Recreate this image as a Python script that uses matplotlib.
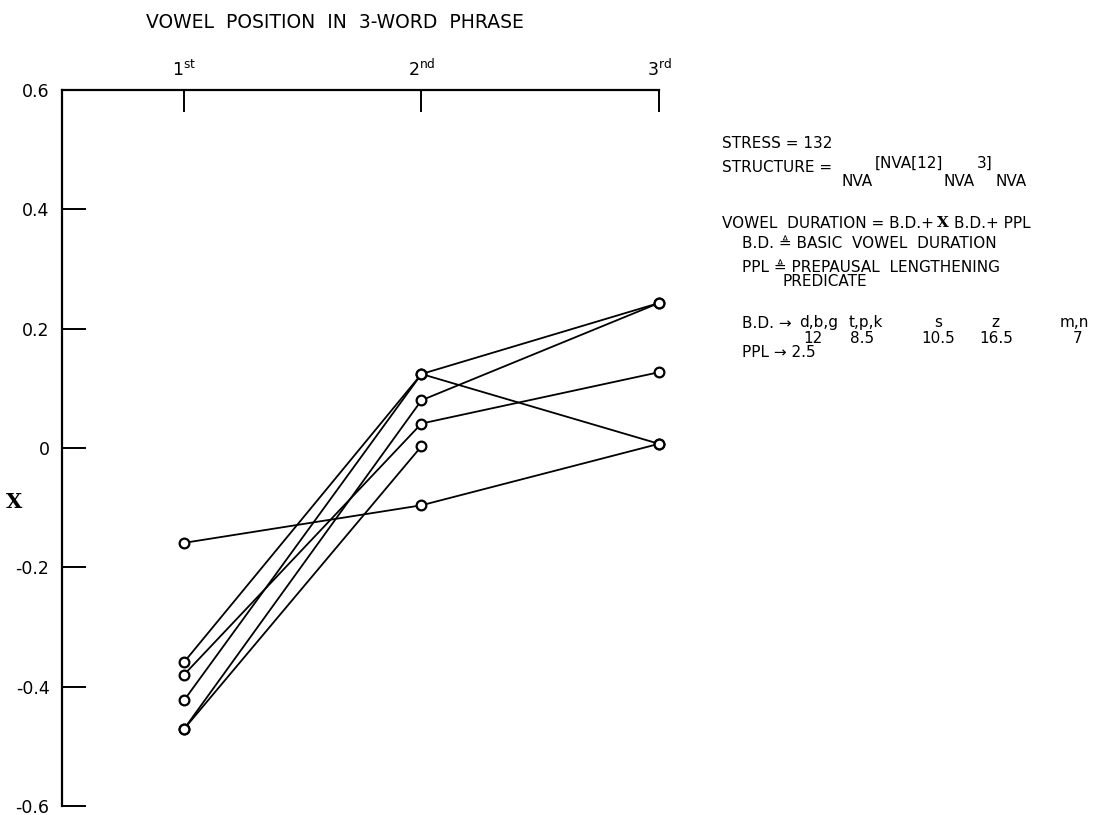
import matplotlib
matplotlib.use("Agg")
import matplotlib.pyplot as plt
import numpy as np

# ---- data -------------------------------------------------------------
positions = [1, 2, 3]
position_labels = [r"$\mathrm{1^{st}}$", r"$\mathrm{2^{nd}}$", r"$\mathrm{3^{rd}}$"]

series_a = [-0.359, 0.124, 0.243]
series_b = [-0.423, 0.124, 0.007]
series_c = [-0.380, 0.041, 0.127]
series_d = [-0.471, 0.080, 0.243]
series_e = [-0.471, 0.003, np.nan]
series_f = [-0.159, -0.096, 0.007]
all_series = [series_a, series_b, series_c, series_d, series_e, series_f]

y_ticks = [0.6, 0.4, 0.2, 0.0, -0.2, -0.4, -0.6]
y_tick_labels = ["0.6", "0.4", "0.2", "0", "-0.2", "-0.4", "-0.6"]

bd_classes = ["d,b,g", "t,p,k", "s", "z", "m,n"]
bd_values = ["12", "8.5", "10.5", "16.5", "7"]

# ---- style -----------------------------------------------------------
plt.rcParams["font.family"] = ["DejaVu Sans"]
plt.rcParams["mathtext.fontset"] = "custom"
plt.rcParams["mathtext.rm"] = "DejaVu Sans"
plt.rcParams["mathtext.it"] = "DejaVu Sans"
plt.rcParams["mathtext.bf"] = "DejaVu Sans"

W, H = 1113, 815
FS = 11

fig = plt.figure(figsize=(W / 100, H / 100), dpi=100)
ax = fig.add_axes([62 / W, 1 - 806 / H, (659 - 62) / W, (806 - 90) / H])

for s in all_series:
    ax.plot(positions, s, color="black", lw=1.3, zorder=2, clip_on=False)
for s in all_series:
    ax.plot(positions, s, ls="none", marker="o", ms=7, mfc="white",
            mec="black", mew=1.6, zorder=3, clip_on=False)

ax.set_xlim(1 - 122 / 237.5, 3.0)
ax.set_ylim(-0.6, 0.6)

for side in ("right", "bottom"):
    ax.spines[side].set_visible(False)
for side in ("top", "left"):
    ax.spines[side].set_linewidth(1.6)

ax.xaxis.tick_top()
ax.set_xticks(positions)
ax.set_xticklabels(position_labels, fontsize=12.5)
ax.tick_params(axis="x", direction="in", length=16, width=1.4, pad=7)

ax.set_yticks(y_ticks)
ax.set_yticklabels(y_tick_labels, fontsize=12.5)
ax.tick_params(axis="y", direction="in", length=17, width=1.4, pad=9)

# y label: X with bars
fig.text(14 / W, 1 - 502 / H, "X", family="DejaVu Serif", fontsize=15,
         fontweight="bold", ha="center", va="center")

fig.text(335 / W, 1 - 22 / H, "VOWEL  POSITION  IN  3-WORD  PHRASE",
         fontsize=13.5, ha="center", va="center")


def put(x, y, s, **kw):
    kw.setdefault("fontsize", FS)
    kw.setdefault("ha", "left")
    return fig.text(x / W, 1 - y / H, s, va="center", **kw)


renderer = fig.canvas.get_renderer()


def chain(x, y, parts):
    for s, dy, gap, kw in parts:
        t = put(x, y + dy, s, **kw)
        bb = t.get_window_extent(renderer)
        x += bb.width + gap


put(722, 143, "STRESS = 132")
chain(722, 168, [
    ("STRUCTURE =", 0, 9, {}),
    ("NVA", 13, 2, {}),
    ("[NVA[12]", -5, 1, {}),
    ("NVA", 13, 2, {}),
    ("3]", -5, 3, {}),
    ("NVA", 13, 0, {}),
])

chain(722, 223, [
    ("VOWEL  DURATION = B.D.+", 0, 3, {}),
    ("X", 0, 5, {"family": "DejaVu Serif", "fontweight": "bold"}),
    ("B.D.+ PPL", 0, 0, {}),
])

put(742, 244, "B.D. \u225c BASIC  VOWEL  DURATION")
put(742, 267, "PPL \u225c PREPAUSAL  LENGTHENING")
put(782, 281, "PREDICATE")

put(742, 324, "B.D. \u2192")
class_x = [819, 866, 938, 995, 1074]
value_x = [813, 862, 938, 996, 1078]
for cls, cx in zip(bd_classes, class_x):
    put(cx, 323, cls, ha="center")
for val, vx in zip(bd_values, value_x):
    put(vx, 338, val, ha="center")

put(742, 353, "PPL \u2192 2.5")

fig.savefig("out.png", dpi=100)
